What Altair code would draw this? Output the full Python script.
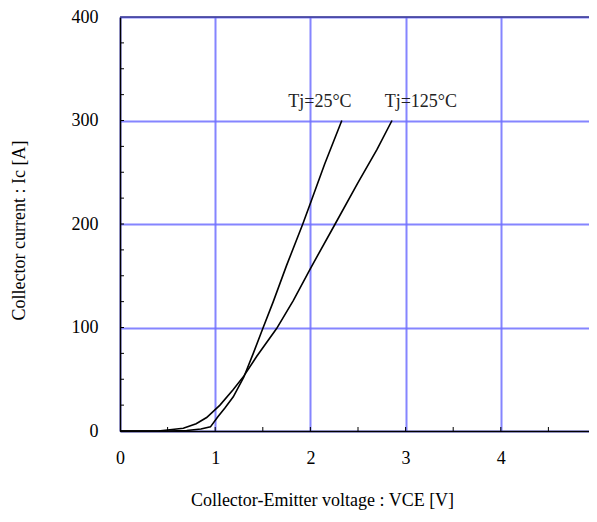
import altair as alt
import pandas as pd

# Data
v25 = [0, 0.5, 0.7, 0.85, 0.95, 1.03, 1.1, 1.19, 1.3, 1.4, 1.5, 1.61, 1.75, 1.92, 2.0, 2.15, 2.33]
i25 = [0, 0, 0.5, 2, 4, 14, 22, 33, 52, 75, 99, 125, 160, 200, 220, 258, 300]
v125 = [0, 0.4, 0.5, 0.665, 0.8, 0.91, 1.05, 1.19, 1.3, 1.435, 1.645, 1.82, 2.0, 2.26, 2.5, 2.7, 2.857]
i125 = [0, 0, 1, 2.6, 7, 13, 25, 40, 53, 72, 99, 126, 157, 200, 240, 272, 300]

label_text = ["Tj=25°C", "Tj=125°C"]
label_v = [2.1, 3.16]
label_i = [313, 313]

x_ticks = [0, 1, 2, 3, 4, 5]
y_ticks = [0, 100, 200, 300, 400]
x_minor = [0.5, 1.0, 1.5, 2.0, 2.5, 3.0, 3.5, 4.0, 4.5]
y_minor = [25, 50, 75, 100, 125, 150, 175, 200, 225, 250, 275, 300, 325, 350, 375]

FONT = "Liberation Serif"
W_FULL, W, H = 476, 469, 414

df = pd.concat([
    pd.DataFrame({"series": "25", "V": v25, "I": i25, "order": range(len(v25))}),
    pd.DataFrame({"series": "125", "V": v125, "I": i125, "order": range(len(v125))}),
])
labels = pd.DataFrame({"text": label_text, "V": label_v, "I": label_i})

xs = alt.Scale(domain=[0, 5], nice=False, zero=False, range=[0, W_FULL])
ys = alt.Scale(domain=[0, 400], nice=False, zero=False)

x_axis = alt.Axis(
    values=x_ticks, format="d", title="Collector-Emitter voltage : VCE [V]", ticks=False,
    labelPadding=18, labelFontSize=18, labelFont=FONT, labelColor="black",
    titleFont=FONT, titleFontSize=18, titleFontWeight="normal", titleColor="black",
    titleX=202, titleY=74, titleBaseline="alphabetic", titleAlign="center",
    grid=True, gridColor="#7070ff", gridWidth=2, gridOpacity=0.85,
    domainColor="black", domainWidth=1.5, labelFlush=False,
)
y_axis = alt.Axis(
    values=y_ticks, format="d", title="Collector current : Ic [A]", ticks=False,
    labelPadding=22, labelFontSize=18, labelFont=FONT, labelColor="black",
    titleFont=FONT, titleFontSize=18, titleFontWeight="normal", titleColor="black",
    titleX=-101, titleY=213, titleAngle=-90, titleBaseline="middle", titleAlign="center",
    grid=True, gridColor="#7070ff", gridWidth=2, gridOpacity=0.85,
    domainColor="black", domainWidth=1.5, labelFlush=False,
)

lines = alt.Chart(df).mark_line(color="black", strokeWidth=1.6).encode(
    x=alt.X("V:Q", scale=xs, axis=x_axis),
    y=alt.Y("I:Q", scale=ys, axis=y_axis),
    detail="series:N",
    order="order:Q",
)

text = alt.Chart(labels).mark_text(
    font=FONT, fontSize=18, color="#222222", align="center", baseline="alphabetic"
).encode(
    x=alt.X("V:Q", scale=xs),
    y=alt.Y("I:Q", scale=ys),
    text="text:N",
)

ytick = alt.Chart(pd.DataFrame({"I": y_minor})).mark_rule(color="black", strokeWidth=1).encode(
    y=alt.Y("I:Q", scale=ys),
    x=alt.value(0),
    x2=alt.value(4),
)
xtick = alt.Chart(pd.DataFrame({"V": x_minor})).mark_rule(color="black", strokeWidth=1).encode(
    x=alt.X("V:Q", scale=xs),
    y=alt.value(H),
    y2=alt.value(H - 4),
)
top = alt.Chart(pd.DataFrame({"I": [400]})).mark_rule(color="#3a3a90", strokeWidth=1.5).encode(
    y=alt.Y("I:Q", scale=ys),
    x=alt.value(0),
    x2=alt.value(W_FULL),
)

chart = alt.layer(lines, ytick, xtick, top, text).properties(
    width=W, height=H,
    autosize=alt.AutoSizeParams(type="none"),
    padding={"left": 112, "top": 9, "right": 0, "bottom": 79},
).configure_view(stroke=None).configure(background="white")

chart.save("out.html", embed_options={"renderer": "svg", "actions": False})
